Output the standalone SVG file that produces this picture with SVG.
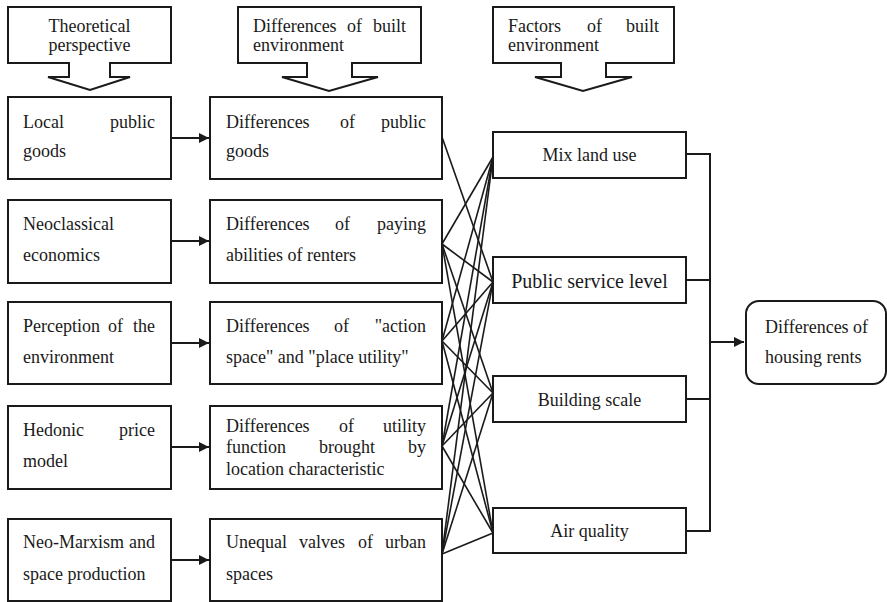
<svg xmlns="http://www.w3.org/2000/svg" width="887" height="602" viewBox="0 0 887 602">
<style>
.box{fill:#fff;stroke:#1a1a1a;stroke-width:2}
text{font-family:'Liberation Serif','Times New Roman',Times,'DejaVu Serif',serif;font-size:18px;fill:#1a1a1a}
.c{text-anchor:middle}
.e{text-anchor:end}
.ln{stroke:#1a1a1a;stroke-width:1.6;fill:none}
.ar{stroke:#1a1a1a;stroke-width:2;fill:none}
</style>
<defs>
<marker id="ah" viewBox="0 0 10 10" refX="10" refY="5" markerWidth="10" markerHeight="10" markerUnits="userSpaceOnUse" orient="auto">
<path d="M0,0 L10,5 L0,10 Z" fill="#1a1a1a"/>
</marker>
</defs>
<rect width="887" height="602" fill="#fff"/>

<g id="h1">
<path class="box" d="M8,7 H171 V63 H110 V77 H130 L90,90 L48,77 H69 V63 H8 Z"/>
<text class="c" x="89.5" y="32">Theoretical</text>
<text class="c" x="89.5" y="51">perspective</text>
</g>
<g id="h2">
<path class="box" d="M238,7 H421 V63 H352 V77 H378 L329,91 L282,77 H307 V63 H238 Z"/>
<text x="253" y="32">Differences</text><text x="347" y="32">of</text><text class="e" x="406" y="32">built</text>
<text x="253" y="51">environment</text>
</g>
<g id="h3">
<path class="box" d="M493,7 H674 V63 H606 V77 H632 L583,91 L535,77 H561 V63 H493 Z"/>
<text x="508" y="32">Factors</text><text x="587" y="32">of</text><text class="e" x="659" y="32">built</text>
<text x="508" y="51">environment</text>
</g>

<g id="l1"><rect class="box" x="8" y="97" width="163" height="82"/>
<text x="23" y="128">Local</text><text class="e" x="155" y="128">public</text>
<text x="23" y="157">goods</text></g>
<g id="l2"><rect class="box" x="8" y="200" width="163" height="83"/>
<text x="23" y="230">Neoclassical</text>
<text x="23" y="261">economics</text></g>
<g id="l3"><rect class="box" x="8" y="302" width="163" height="82"/>
<text x="23" y="332">Perception</text><text x="108" y="332">of</text><text class="e" x="155" y="332">the</text>
<text x="23" y="363">environment</text></g>
<g id="l4"><rect class="box" x="8" y="406" width="163" height="83"/>
<text x="23" y="436">Hedonic</text><text class="e" x="155" y="436">price</text>
<text x="23" y="467">model</text></g>
<g id="l5"><rect class="box" x="8" y="519" width="163" height="82"/>
<text x="23" y="548">Neo-Marxism</text><text class="e" x="155" y="548">and</text>
<text x="23" y="580">space production</text></g>

<g id="m1"><rect class="box" x="210" y="97" width="232" height="82"/>
<text x="226" y="128">Differences</text><text x="340" y="128">of</text><text class="e" x="426" y="128">public</text>
<text x="226" y="157">goods</text></g>
<g id="m2"><rect class="box" x="210" y="200" width="232" height="83"/>
<text x="226" y="230">Differences</text><text x="335" y="230">of</text><text class="e" x="426" y="230">paying</text>
<text x="226" y="261">abilities of renters</text></g>
<g id="m3"><rect class="box" x="210" y="302" width="232" height="82"/>
<text x="226" y="332">Differences</text><text x="334" y="332">of</text><text class="e" x="426" y="332">"action</text>
<text x="226" y="363">space" and "place utility"</text></g>
<g id="m4"><rect class="box" x="210" y="406" width="232" height="83"/>
<text x="226" y="432">Differences</text><text x="339" y="432">of</text><text class="e" x="426" y="432">utility</text>
<text x="226" y="453">function</text><text x="319" y="453">brought</text><text class="e" x="426" y="453">by</text>
<text x="226" y="475">location characteristic</text></g>
<g id="m5"><rect class="box" x="210" y="519" width="232" height="82"/>
<text x="226" y="548">Unequal</text><text x="299" y="548">valves</text><text x="358" y="548">of</text><text class="e" x="426" y="548">urban</text>
<text x="226" y="580">spaces</text></g>

<g id="f1"><rect class="box" x="493" y="132" width="193" height="46"/>
<text class="c" x="589.5" y="161">Mix land use</text></g>
<g id="f2"><rect class="box" x="493" y="257" width="193" height="46"/>
<text class="c" x="589.5" y="288" style="font-size:20px">Public service level</text></g>
<g id="f3"><rect class="box" x="493" y="376" width="193" height="46"/>
<text class="c" x="589.5" y="406">Building scale</text></g>
<g id="f4"><rect class="box" x="493" y="508" width="193" height="45"/>
<text class="c" x="589.5" y="537">Air quality</text></g>

<g id="out"><rect class="box" x="746" y="301" width="140" height="83" rx="13" ry="13"/>
<text x="765" y="333">Differences of</text>
<text x="765" y="363">housing rents</text></g>

<g id="connectors">
<line class="ar" x1="171" y1="138" x2="209" y2="138" marker-end="url(#ah)"/>
<line class="ar" x1="171" y1="241" x2="209" y2="241" marker-end="url(#ah)"/>
<line class="ar" x1="171" y1="343" x2="209" y2="343" marker-end="url(#ah)"/>
<line class="ar" x1="171" y1="447" x2="209" y2="447" marker-end="url(#ah)"/>
<line class="ar" x1="171" y1="560" x2="209" y2="560" marker-end="url(#ah)"/>

<line class="ln" x1="442" y1="137" x2="493" y2="282"/>
<line class="ln" x1="442" y1="244" x2="493" y2="157"/>
<line class="ln" x1="442" y1="244" x2="493" y2="282"/>
<line class="ln" x1="442" y1="244" x2="493" y2="393"/>
<line class="ln" x1="442" y1="244" x2="493" y2="533"/>
<line class="ln" x1="442" y1="341" x2="493" y2="157"/>
<line class="ln" x1="442" y1="341" x2="493" y2="282"/>
<line class="ln" x1="442" y1="341" x2="493" y2="393"/>
<line class="ln" x1="442" y1="341" x2="493" y2="533"/>
<line class="ln" x1="442" y1="446" x2="493" y2="157"/>
<line class="ln" x1="442" y1="446" x2="493" y2="282"/>
<line class="ln" x1="442" y1="446" x2="493" y2="393"/>
<line class="ln" x1="442" y1="446" x2="493" y2="533"/>
<line class="ln" x1="442" y1="554" x2="493" y2="157"/>
<line class="ln" x1="442" y1="554" x2="493" y2="282"/>
<line class="ln" x1="442" y1="554" x2="493" y2="393"/>
<line class="ln" x1="442" y1="554" x2="493" y2="533"/>

<path class="ar" d="M686,154 H710 M686,280 H710 M686,399 H710 M686,531 H710 M710,153 V532"/>
<line class="ar" x1="710" y1="342" x2="744" y2="342" marker-end="url(#ah)"/>
</g>
</svg>
